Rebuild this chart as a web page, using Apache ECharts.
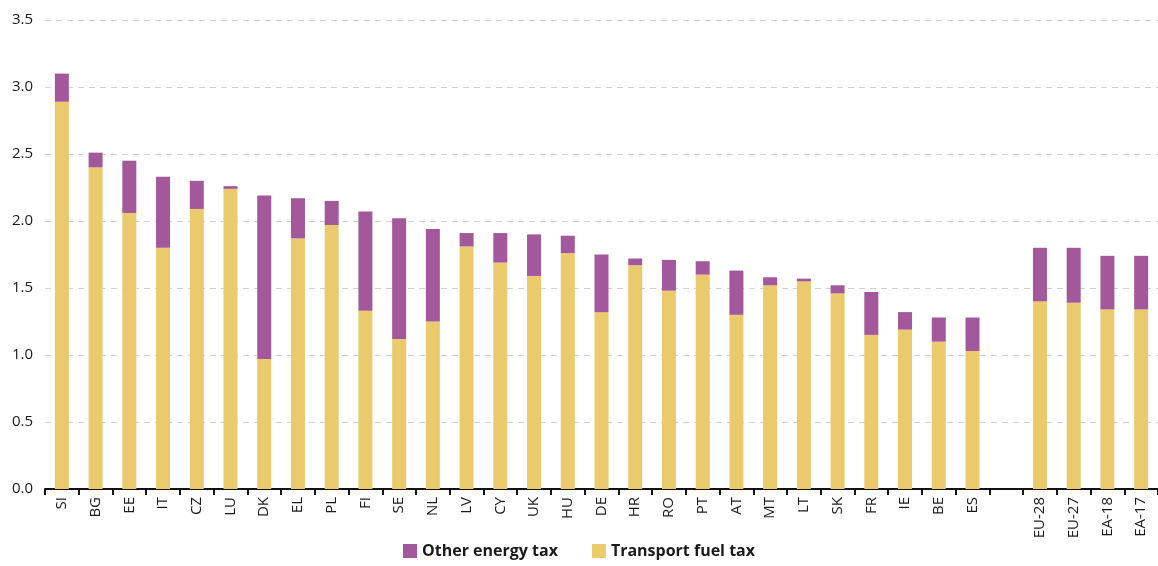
<!DOCTYPE html>
<html>
<head>
<meta charset="utf-8">
<script src="https://cdn.jsdelivr.net/npm/echarts@6/dist/echarts.min.js"></script>
<style>
html,body{margin:0;padding:0;background:#fff;}
#chart{width:1158px;height:566px;}
</style>
</head>
<body>
<div id="chart"></div>
<script>
const categories = ['SI','BG','EE','IT','CZ','LU','DK','EL','PL','FI','SE','NL','LV','CY','UK','HU','DE','HR','RO','PT','AT','MT','LT','SK','FR','IE','BE','ES','','EU-28','EU-27','EA-18','EA-17'];
const transportFuelTax = [2.89,2.40,2.06,1.80,2.09,2.24,0.97,1.87,1.97,1.33,1.12,1.25,1.81,1.69,1.59,1.76,1.32,1.67,1.48,1.60,1.30,1.52,1.55,1.46,1.15,1.19,1.10,1.03,'-',1.40,1.39,1.34,1.34];
const otherEnergyTax = [0.21,0.11,0.39,0.53,0.21,0.02,1.22,0.30,0.18,0.74,0.90,0.69,0.10,0.22,0.31,0.13,0.43,0.05,0.23,0.10,0.33,0.06,0.02,0.06,0.32,0.13,0.18,0.25,'-',0.40,0.41,0.40,0.40];
const yTicks = [0,0.5,1.0,1.5,2.0,2.5,3.0,3.5];

const chart = echarts.init(document.getElementById('chart'));
chart.setOption({
  animation:false,
  grid:{left:45,right:0,top:20,bottom:77,containLabel:false},
  legend:{
    data:['Other energy tax','Transport fuel tax'],
    bottom:2,left:'center',
    itemWidth:14,itemHeight:14,itemGap:34,
    icon:'rect',
    textStyle:{fontFamily:'Open Sans',fontWeight:'bold',fontSize:16,color:'#1a1a1a'}
  },
  xAxis:{
    type:'category',data:categories,
    axisLine:{lineStyle:{color:'#111',width:2}},
    axisTick:{show:true,length:6,lineStyle:{color:'#111',width:2}},
    axisLabel:{rotate:90,fontFamily:'Open Sans',fontSize:15,color:'#1a1a1a',margin:8,interval:0}
  },
  yAxis:{
    type:'value',min:yTicks[0],max:yTicks[yTicks.length-1],interval:0.5,
    axisLine:{show:false},axisTick:{show:false},
    axisLabel:{fontFamily:'Open Sans',fontSize:15,color:'#1a1a1a',margin:12,formatter:v=>v.toFixed(1)},
    splitLine:{lineStyle:{color:'#d0d0d0',type:[6,5],width:1}}
  },
  series:[
    {name:'Transport fuel tax',type:'bar',stack:'t',data:transportFuelTax,barWidth:14,itemStyle:{color:'#EACA6D'}},
    {name:'Other energy tax',type:'bar',stack:'t',data:otherEnergyTax,barWidth:14,itemStyle:{color:'#A2589A'}}
  ]
});
</script>
</body>
</html>
